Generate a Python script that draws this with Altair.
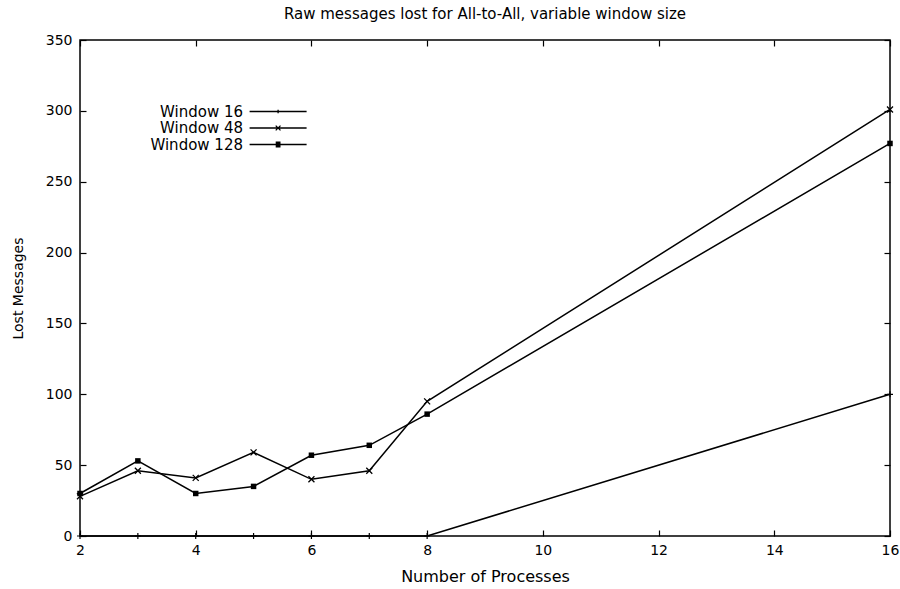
import altair as alt
import pandas as pd

# ---- data ----
processes = [2, 3, 4, 5, 6, 7, 8, 16]
window_16 = [0, 0, 0, 0, 0, 0, 0, 100]
window_48 = [28, 46, 41, 59, 40, 46, 95, 301]
window_128 = [30, 53, 30, 35, 57, 64, 86, 277]
series_names = ["Window 16", "Window 48", "Window 128"]
x_ticks = [2, 4, 6, 8, 10, 12, 14, 16]
y_ticks = [0, 50, 100, 150, 200, 250, 300, 350]

rows = []
for name, vals in zip(series_names, [window_16, window_48, window_128]):
    for p, v in zip(processes, vals):
        rows.append({"series": name, "processes": p, "lost": v})
df = pd.DataFrame(rows)

FONT = "DejaVu Sans"

# marker shapes (unit paths)
PLUS = "M-1,0H1M0,-1V1"
XMARK = "M-1,-1L1,1M-1,1L1,-1"
# legend symbols (unit = 3 px): a line drawn to the right of the right-aligned
# label, with the series marker in its middle (square made of stacked strokes)
LEG16 = "M4.7,0H23.7M14.2,-0.6V0.6"
LEG48 = "M4.7,0H23.7M13.4,-0.8L15,0.8M13.4,0.8L15,-0.8"
LEG128 = ("M4.7,0H23.7M13.4,-0.8H15M13.4,-0.4H15M13.4,0.4H15M13.4,0.8H15")

x_scale = alt.Scale(domain=[2, 16], nice=False, zero=False)
y_scale = alt.Scale(domain=[0, 350], nice=False)

base = alt.Chart(df)

lines = base.mark_line(color="black", strokeWidth=1.5).encode(
    x=alt.X("processes:Q", scale=x_scale,
            axis=alt.Axis(orient="bottom", values=x_ticks, offset=-6, tickSize=6,
                          domain=False, grid=False, labelFont=FONT, labelFontSize=14,
                          labelPadding=7, labelColor="black", tickColor="black",
                          tickWidth=1.2, title="Number of Processes", titleFont=FONT,
                          titleFontSize=16, titleFontWeight="normal", titleColor="black",
                          titlePadding=11, labelFlush=False)),
    y=alt.Y("lost:Q", scale=y_scale,
            axis=alt.Axis(orient="left", values=y_ticks, offset=-6, tickSize=6,
                          domain=False, grid=False, labelFont=FONT, labelFontSize=14,
                          labelPadding=8, labelColor="black", tickColor="black",
                          tickWidth=1.2, title="Lost Messages", titleFont=FONT,
                          titleFontSize=14, titleFontWeight="normal", titleColor="black",
                          titlePadding=20, labelFlush=False)),
    detail="series:N",
)

mk16 = base.transform_filter(alt.datum.series == "Window 16").mark_point(
    shape=PLUS, size=36, filled=False, color="black", strokeWidth=1.2, opacity=1
).encode(
    x=alt.X("processes:Q", scale=x_scale,
            axis=alt.Axis(orient="top", values=x_ticks, offset=-6, tickSize=6,
                          domain=False, grid=False, labels=False, title=None,
                          tickColor="black", tickWidth=1.2)),
    y=alt.Y("lost:Q", scale=y_scale,
            axis=alt.Axis(orient="right", values=y_ticks, offset=-6, tickSize=6,
                          domain=False, grid=False, labels=False, title=None,
                          tickColor="black", tickWidth=1.2)),
)

mk48 = base.transform_filter(alt.datum.series == "Window 48").mark_point(
    shape=XMARK, size=36, filled=False, color="black", strokeWidth=1.3, opacity=1
).encode(x=alt.X("processes:Q", scale=x_scale, axis=None),
         y=alt.Y("lost:Q", scale=y_scale, axis=None))

mk128 = base.transform_filter(alt.datum.series == "Window 128").mark_square(
    size=30, filled=True, color="black", opacity=1
).encode(x=alt.X("processes:Q", scale=x_scale, axis=None),
         y=alt.Y("lost:Q", scale=y_scale, axis=None))

legend_layer = base.transform_filter("false").mark_point(
    filled=False, color="black", strokeWidth=1.3, opacity=1, size=36
).encode(
    x=alt.X("processes:Q", scale=x_scale, axis=None),
    y=alt.Y("lost:Q", scale=y_scale, axis=None),
    shape=alt.Shape("series:N",
                    scale=alt.Scale(domain=series_names, range=[LEG16, LEG48, LEG128]),
                    legend=alt.Legend(orient="none", legendX=148, legendY=64, title=None,
                                      direction="vertical", padding=0,
                                      labelFont=FONT, labelFontSize=15, labelColor="black",
                                      labelAlign="right", labelOffset=0,
                                      symbolSize=36, symbolStrokeColor="black",
                                      symbolStrokeWidth=1.3,
                                      symbolOpacity=1, rowPadding=0.5,
                                      labelLimit=300)),
)

chart = alt.layer(lines, mk16, mk48, mk128, legend_layer).resolve_axis(
    x="independent", y="independent"
).properties(
    width=810, height=496,
    padding={"left": 80, "top": 40, "right": 10, "bottom": 53},
    autosize="none",
    title=alt.TitleParams("Raw messages lost for All-to-All, variable window size",
                          font=FONT, fontSize=15, fontWeight="normal", color="black",
                          offset=11, anchor="middle"),
    background="white",
).configure_view(stroke="black", strokeWidth=1.5)

chart.save("out.html", embed_options={"renderer": "svg", "actions": False})
